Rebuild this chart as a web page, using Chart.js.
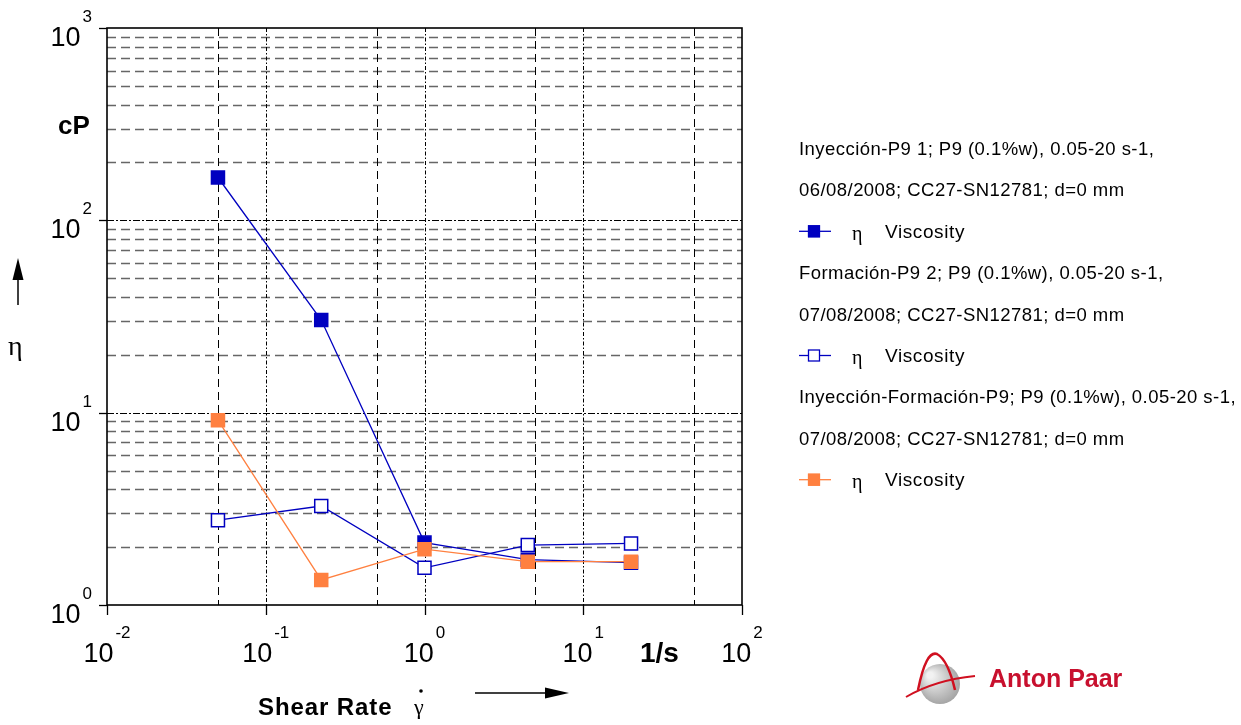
<!DOCTYPE html>
<html lang="es">
<head>
    <meta charset="UTF-8">
    <title>Viscosity</title>
    <script src="https://cdn.jsdelivr.net/npm/chart.js"></script>
    <style>
        body {
            margin: 0;
            background: #ffffff;
        }
        .chart-box {
            width: 1241px;
            height: 725px;
        }
    </style>
</head>
<body>
    <div class="chart-box">
        <canvas id="chart" width="1241" height="725"></canvas>
    </div>

    <script>
        // Shear rate (1/s)
        const shearRate = [0.05, 0.2236, 1, 4.472, 20];

        // Viscosity (cP) per measurement
        const viscInyeccion = [167, 30.3, 2.11, 1.72, 1.66];
        const viscFormacion = [2.76, 3.27, 1.56, 2.05, 2.09];
        const viscInyFor = [9.14, 1.35, 1.95, 1.68, 1.68];

        // decade exponents shown as tick labels
        const xTickExps = [-2, -1, 0, 1, 2];
        const yTickExps = [0, 1, 2, 3];

        const legendTitles = [
            ['Inyección-P9 1; P9 (0.1%w), 0.05-20 s-1,', '06/08/2008; CC27-SN12781; d=0 mm'],
            ['Formación-P9 2; P9 (0.1%w), 0.05-20 s-1,', '07/08/2008; CC27-SN12781; d=0 mm'],
            ['Inyección-Formación-P9; P9 (0.1%w), 0.05-20 s-1,', '07/08/2008; CC27-SN12781; d=0 mm']
        ];

        const blue = '#0000c0';
        const orange = '#ff8040';

        function toPoints(values) {
            return values.map((v, i) => ({ x: shearRate[i], y: v }));
        }

        // grid lines, frame and tick marks
        const gridPlugin = {
            id: 'grid',
            beforeDatasetsDraw(chart) {
                const ctx = chart.ctx;
                const a = chart.chartArea;
                const xs = chart.scales.x, ys = chart.scales.y;
                ctx.save();

                // horizontal lines
                for (let e = Math.round(Math.log10(ys.min)); e < Math.round(Math.log10(ys.max)); e++) {
                    for (let m = 2; m <= 9; m++) {
                        const py = Math.round(ys.getPixelForValue(m * Math.pow(10, e))) + 0.5;
                        ctx.beginPath();
                        ctx.strokeStyle = '#666';
                        ctx.lineWidth = 1.3;
                        ctx.setLineDash([9, 5]);
                        ctx.moveTo(a.left, py);
                        ctx.lineTo(a.right, py);
                        ctx.stroke();
                    }
                }
                yTickExps.forEach(e => {
                    const py = Math.round(ys.getPixelForValue(Math.pow(10, e))) + 0.5;
                    if (py > a.top + 2 && py < a.bottom - 2) {
                        ctx.beginPath();
                        ctx.strokeStyle = '#000';
                        ctx.lineWidth = 1;
                        ctx.setLineDash([7, 2, 2, 2]);
                        ctx.moveTo(a.left, py);
                        ctx.lineTo(a.right, py);
                        ctx.stroke();
                    }
                });

                // vertical lines: decades dash-dot, 5s dashed
                xTickExps.forEach(e => {
                    const px = Math.round(xs.getPixelForValue(Math.pow(10, e))) + 0.5;
                    if (px > a.left + 2 && px < a.right - 2) {
                        ctx.beginPath();
                        ctx.strokeStyle = '#000';
                        ctx.lineWidth = 1;
                        ctx.setLineDash([4, 2, 1.5, 2]);
                        ctx.moveTo(px, a.top);
                        ctx.lineTo(px, a.bottom);
                        ctx.stroke();
                    }
                    const v5 = 5 * Math.pow(10, e);
                    if (v5 < xs.max) {
                        const p5 = Math.round(xs.getPixelForValue(v5)) + 0.5;
                        ctx.beginPath();
                        ctx.strokeStyle = '#000';
                        ctx.lineWidth = 1;
                        ctx.setLineDash([8, 5]);
                        ctx.moveTo(p5, a.top);
                        ctx.lineTo(p5, a.bottom);
                        ctx.stroke();
                    }
                });

                // frame
                ctx.setLineDash([]);
                ctx.strokeStyle = '#000';
                ctx.lineWidth = 1.6;
                ctx.strokeRect(a.left, a.top, a.right - a.left, a.bottom - a.top);

                // tick marks
                ctx.lineWidth = 1.3;
                yTickExps.forEach(e => {
                    const py = Math.round(ys.getPixelForValue(Math.pow(10, e))) + 0.5;
                    ctx.beginPath();
                    ctx.moveTo(a.left - 8, py);
                    ctx.lineTo(a.left, py);
                    ctx.stroke();
                });
                xTickExps.forEach(e => {
                    const px = Math.round(xs.getPixelForValue(Math.pow(10, e))) + 0.5;
                    ctx.beginPath();
                    ctx.moveTo(px, a.bottom);
                    ctx.lineTo(px, a.bottom + 10);
                    ctx.stroke();
                });
                ctx.restore();
            }
        };

        // labels, legend and logo
        const textPlugin = {
            id: 'texts',
            afterDraw(chart) {
                const ctx = chart.ctx;
                const a = chart.chartArea;
                const xs = chart.scales.x, ys = chart.scales.y;
                const base = '27px "Liberation Sans", Arial, sans-serif';
                const sup = '17px "Liberation Sans", Arial, sans-serif';
                ctx.save();
                ctx.fillStyle = '#000';
                ctx.textBaseline = 'alphabetic';

                // x tick labels
                xTickExps.forEach(e => {
                    const px = xs.getPixelForValue(Math.pow(10, e));
                    ctx.font = base;
                    const w1 = ctx.measureText('10').width;
                    ctx.font = sup;
                    const w2 = ctx.measureText(String(e)).width;
                    const start = px - (w1 + 2 + w2) / 2;
                    ctx.font = base;
                    ctx.textAlign = 'left';
                    ctx.fillText('10', start, a.bottom + 57);
                    ctx.font = sup;
                    ctx.fillText(String(e), start + w1 + 2, a.bottom + 33);
                });

                // y tick labels
                yTickExps.forEach(e => {
                    const py = ys.getPixelForValue(Math.pow(10, e));
                    const right = a.left - 15;
                    ctx.font = sup;
                    ctx.textAlign = 'right';
                    ctx.fillText(String(e), right, py - 6);
                    const w2 = ctx.measureText(String(e)).width;
                    ctx.font = base;
                    ctx.fillText('10', right - w2 - 2, py + 18);
                });

                // axis titles
                ctx.textAlign = 'left';
                ctx.font = 'bold 26px "Liberation Sans", Arial, sans-serif';
                ctx.fillText('cP', 58, 134);
                ctx.font = '28px "Liberation Serif", serif';
                ctx.fillText('η', 8, 355);
                ctx.font = 'bold 28px "Liberation Sans", Arial, sans-serif';
                ctx.fillText('1/s', 640, 662);
                ctx.font = 'bold 24px "Liberation Sans", Arial, sans-serif';
                ctx.letterSpacing = '0.9px';
                ctx.fillText('Shear Rate', 258, 715);
                ctx.letterSpacing = '0px';
                ctx.font = '22px "Liberation Serif", serif';
                ctx.fillText('γ', 414, 714);
                ctx.beginPath();
                ctx.arc(421, 691, 1.8, 0, Math.PI * 2);
                ctx.fill();

                // arrows
                ctx.strokeStyle = '#000';
                ctx.lineWidth = 1.5;
                ctx.beginPath();
                ctx.moveTo(18, 305);
                ctx.lineTo(18, 275);
                ctx.stroke();
                ctx.beginPath();
                ctx.moveTo(18, 258);
                ctx.lineTo(12.5, 280);
                ctx.lineTo(23.5, 280);
                ctx.closePath();
                ctx.fill();
                ctx.beginPath();
                ctx.moveTo(475, 693);
                ctx.lineTo(548, 693);
                ctx.stroke();
                ctx.beginPath();
                ctx.moveTo(569, 693);
                ctx.lineTo(545, 687.5);
                ctx.lineTo(545, 698.5);
                ctx.closePath();
                ctx.fill();

                // legend
                let y = 155;
                const step = 41.4;
                chart.data.datasets.forEach((ds, i) => {
                    ctx.fillStyle = '#000';
                    ctx.font = '18.5px "Liberation Sans", Arial, sans-serif';
                    ctx.letterSpacing = '0.45px';
                    ctx.fillText(legendTitles[i][0], 799, y);
                    y += step;
                    ctx.fillText(legendTitles[i][1], 799, y);
                    y += step;
                    const cy = y - 6.5;
                    ctx.strokeStyle = ds.borderColor;
                    ctx.lineWidth = 1.3;
                    ctx.beginPath();
                    ctx.moveTo(799, cy);
                    ctx.lineTo(831, cy);
                    ctx.stroke();
                    ctx.fillStyle = ds.pointBackgroundColor;
                    ctx.fillRect(808, cy - 6, 12, 12);
                    ctx.lineWidth = 1.3;
                    ctx.strokeRect(808.5, cy - 5.5, 11, 11);
                    ctx.fillStyle = '#000';
                    ctx.letterSpacing = '0px';
                    ctx.font = '20px "Liberation Serif", serif';
                    ctx.fillText('η', 852, y + 2);
                    ctx.font = '19px "Liberation Sans", Arial, sans-serif';
                    ctx.letterSpacing = '0.6px';
                    ctx.fillText('Viscosity', 885, y);
                    ctx.letterSpacing = '0px';
                    y += step;
                });

                // Anton Paar logo
                const g = ctx.createRadialGradient(930, 675, 3, 940, 684, 24);
                g.addColorStop(0, '#f2f2f2');
                g.addColorStop(1, '#9a9a9a');
                ctx.fillStyle = g;
                ctx.beginPath();
                ctx.arc(940, 684, 20, 0, Math.PI * 2);
                ctx.fill();
                ctx.strokeStyle = '#d01020';
                ctx.lineWidth = 2.5;
                ctx.beginPath();
                ctx.moveTo(918, 690);
                ctx.quadraticCurveTo(926, 650, 937, 654);
                ctx.quadraticCurveTo(948, 660, 955, 690);
                ctx.stroke();
                ctx.lineWidth = 2;
                ctx.beginPath();
                ctx.moveTo(906, 697);
                ctx.quadraticCurveTo(935, 680, 975, 676);
                ctx.stroke();
                ctx.fillStyle = '#c8102e';
                ctx.font = 'bold 25px "Liberation Sans", Arial, sans-serif';
                ctx.fillText('Anton Paar', 989, 687);
                ctx.restore();
            }
        };

        new Chart(document.getElementById('chart'), {
            type: 'line',
            data: {
                datasets: [{
                    label: 'Inyección-P9 1',
                    data: toPoints(viscInyeccion),
                    borderColor: blue,
                    backgroundColor: blue,
                    pointBackgroundColor: blue,
                    pointBorderColor: blue,
                    order: 3
                }, {
                    label: 'Formación-P9 2',
                    data: toPoints(viscFormacion),
                    borderColor: blue,
                    backgroundColor: '#ffffff',
                    pointBackgroundColor: '#ffffff',
                    pointBorderColor: blue,
                    order: 2
                }, {
                    label: 'Inyección-Formación-P9',
                    data: toPoints(viscInyFor),
                    borderColor: orange,
                    backgroundColor: orange,
                    pointBackgroundColor: orange,
                    pointBorderColor: orange,
                    order: 1
                }]
            },
            options: {
                responsive: false,
                animation: false,
                layout: {
                    padding: { left: 107, top: 28, right: 499, bottom: 120 }
                },
                elements: {
                    line: { borderWidth: 1.3, tension: 0, fill: false },
                    point: { pointStyle: 'rect', radius: 9.2, borderWidth: 1.5, hoverRadius: 9.2 }
                },
                scales: {
                    x: { type: 'logarithmic', min: 0.01, max: 100, display: false },
                    y: { type: 'logarithmic', min: 1, max: 1000, display: false }
                },
                plugins: {
                    legend: { display: false },
                    tooltip: { enabled: false }
                }
            },
            plugins: [gridPlugin, textPlugin]
        });
    </script>
</body>
</html>
